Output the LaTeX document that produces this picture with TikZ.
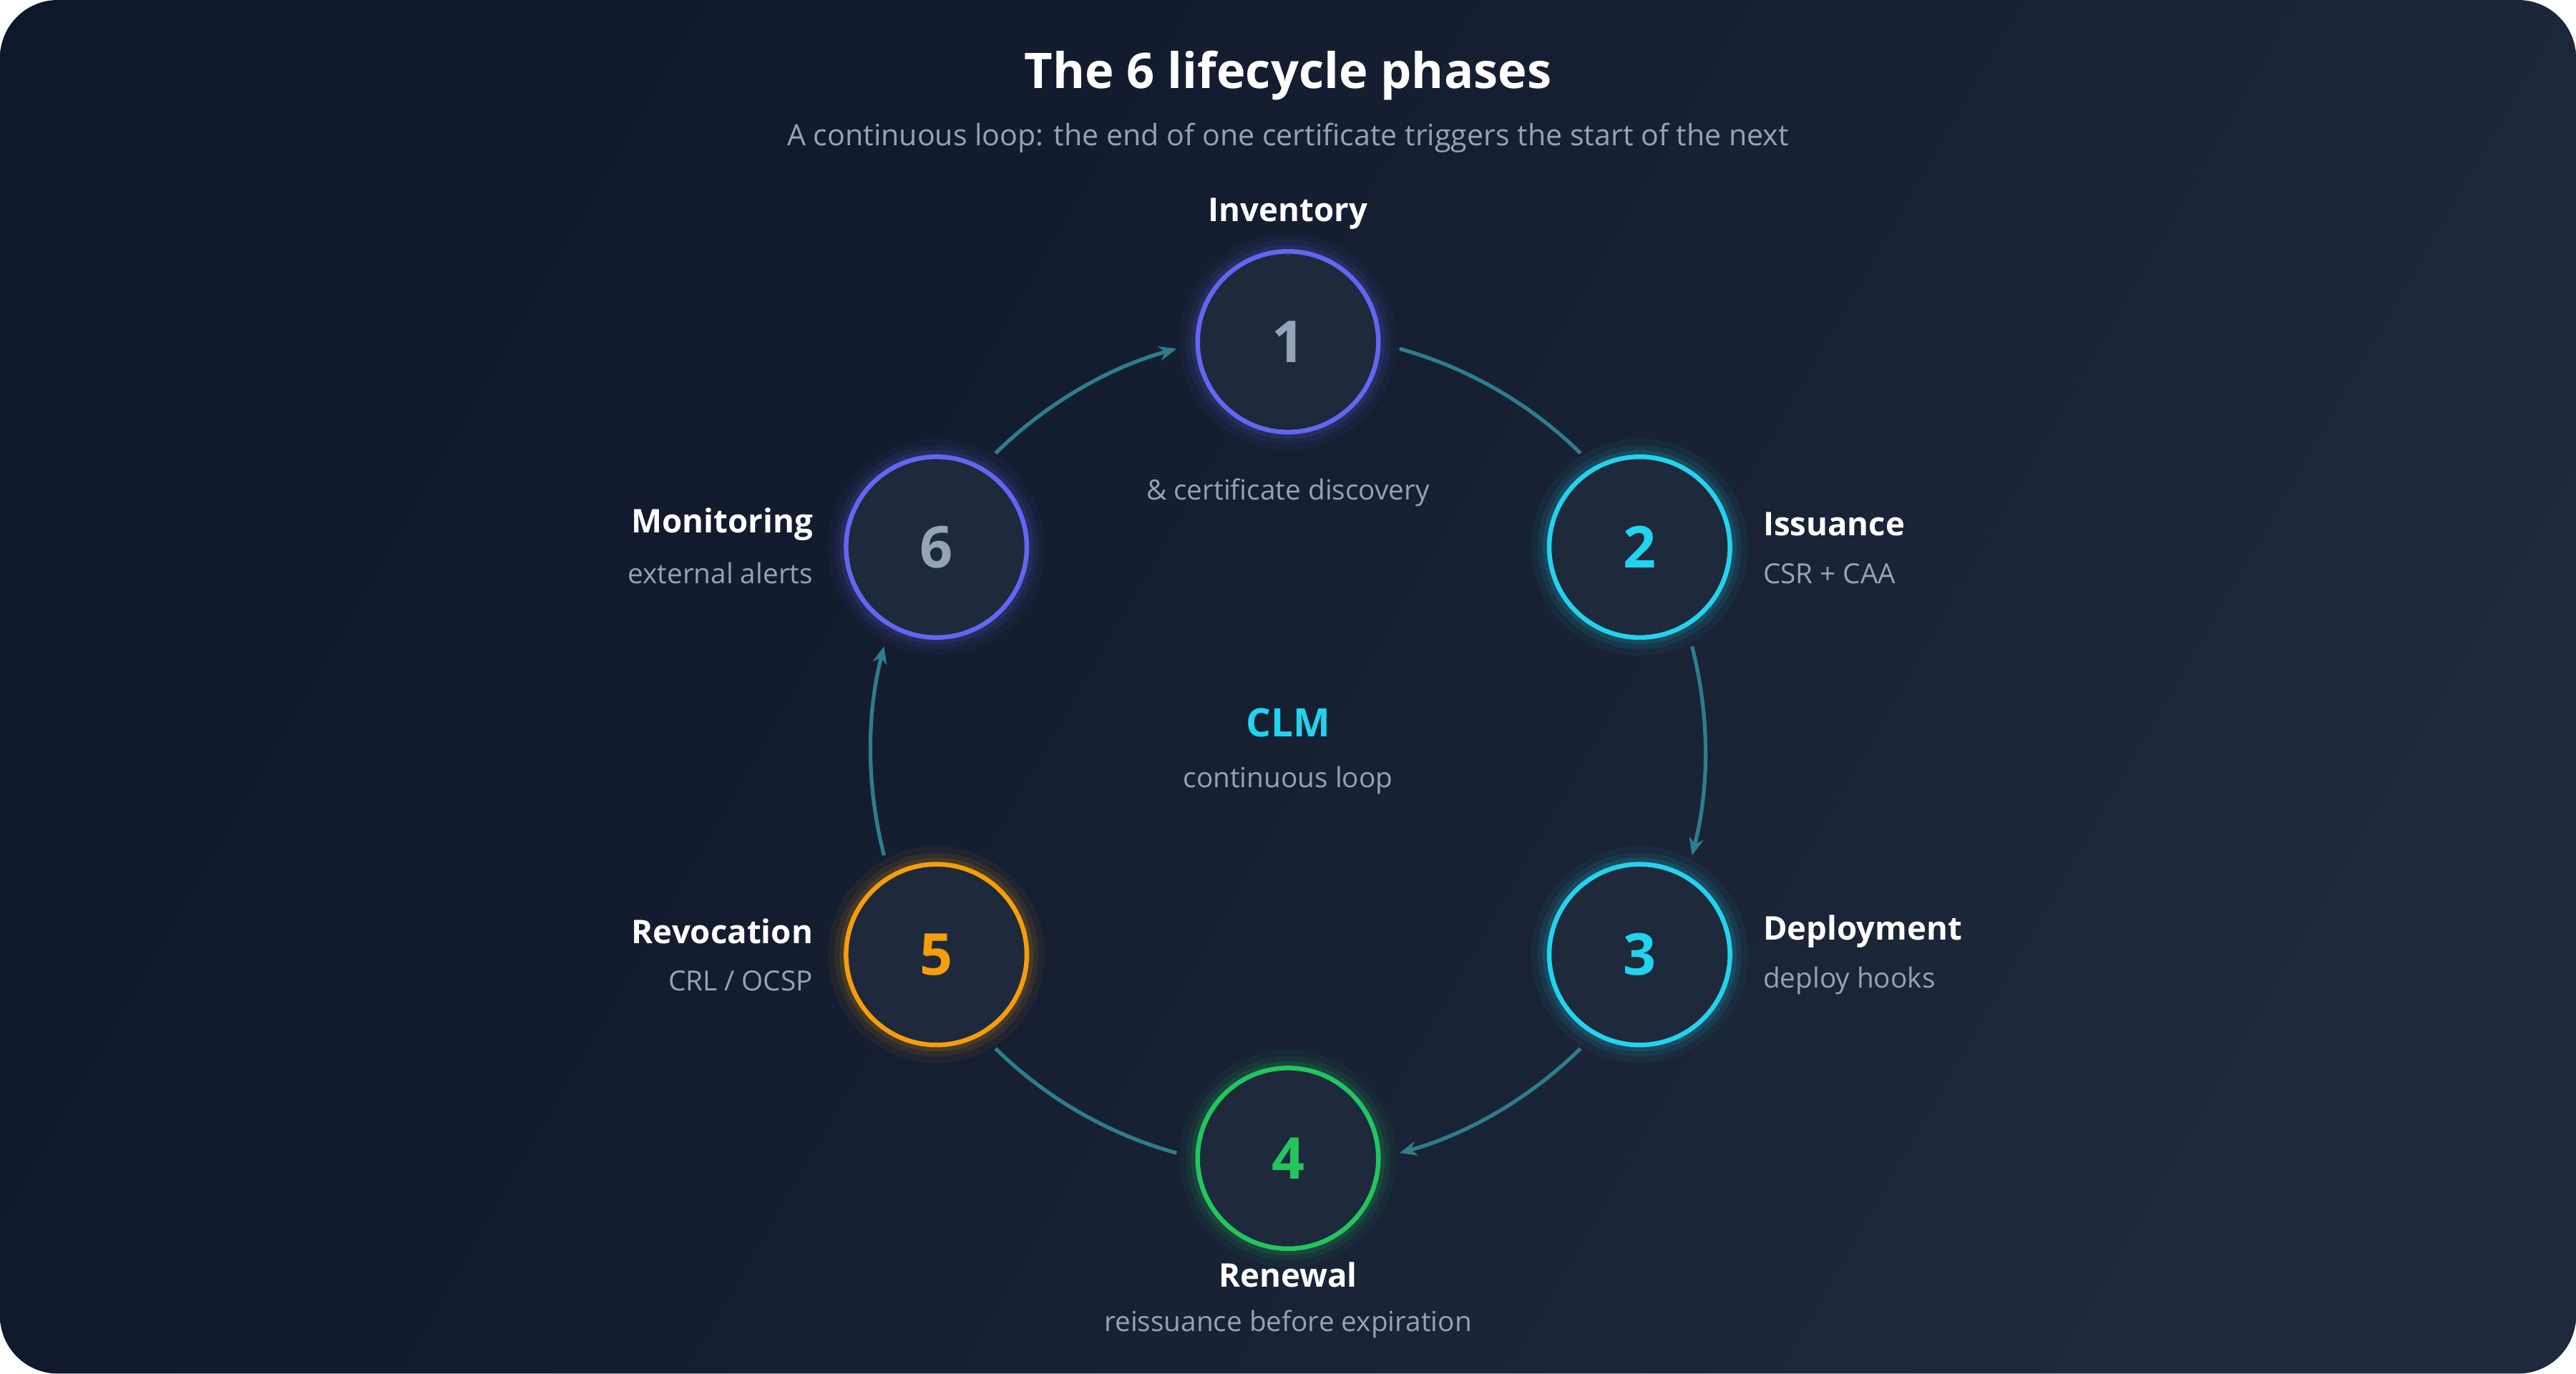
\documentclass[tikz,border=0pt]{standalone}
\usepackage{fontspec}
\setmainfont{Open Sans}
\usetikzlibrary{arrows.meta,calc}
\definecolor{bgA}{HTML}{0F172A}
\definecolor{bgB}{HTML}{1E293B}
\definecolor{cfill}{HTML}{1E293B}
\definecolor{indi}{HTML}{6366F1}
\definecolor{cyanc}{HTML}{22D3EE}
\definecolor{greenc}{HTML}{22C55E}
\definecolor{amber}{HTML}{F59E0B}
\definecolor{slate}{HTML}{94A3B8}
\definecolor{arcc}{HTML}{2E7D8C}
\begin{document}
\begin{tikzpicture}[x=0.02cm,y=-0.02cm,
  phase/.style={circle,minimum size=110*0.02cm,inner sep=0pt,line width=1.6pt,fill=cfill,font=\bfseries\fontsize{20}{24}\selectfont},
  lab/.style={text=white,font=\bfseries\fontsize{11.3}{13}\selectfont},
  sub/.style={text=slate,font=\fontsize{9.6}{12}\selectfont},
  loop/.style={draw=arcc,line width=1.3pt},
  tip/.style={-{Stealth[length=6pt,width=5pt]}}]
\useasboundingbox (0,0) rectangle (1568,836);
\fill[white] (0,0) rectangle (1568,836);
\shade[rounded corners=20pt,left color=bgA,right color=bgB,shading angle=60] (0,0) rectangle (1568,836);
\node[text=white,font=\bfseries\fontsize{17}{20}\selectfont] (title) at (784,46) {The 6 lifecycle phases};
\node[sub,font=\fontsize{10.2}{12}\selectfont] (subt) at (784,84) {A continuous loop: the end of one certificate triggers the start of the next};
\coordinate (c) at (784,457);
% arcs
\def\R{254}
\draw[loop] ($(c)+(-74.5:\R)$) arc[start angle=-74.5,end angle=-45.5,radius=\R];
\draw[loop,tip] ($(c)+(-14.5:\R)$) arc[start angle=-14.5,end angle=14.5,radius=\R];
\draw[loop,tip] ($(c)+(45.5:\R)$) arc[start angle=45.5,end angle=74.5,radius=\R];
\draw[loop] ($(c)+(105.5:\R)$) arc[start angle=105.5,end angle=134.5,radius=\R];
\draw[loop,tip] ($(c)+(165.5:\R)$) arc[start angle=165.5,end angle=194.5,radius=\R];
\draw[loop,tip] ($(c)+(225.5:\R)$) arc[start angle=225.5,end angle=254.5,radius=\R];
% glows + nodes
\foreach \p/\col/\num/\nc in {(784,208)/indi/1/slate,(998,333)/cyanc/2/cyanc,(998,581)/cyanc/3/cyanc,(784,705)/greenc/4/greenc,(570,581)/amber/5/amber,(570,333)/indi/6/slate}{
  \foreach \r/\o in {66/0.05,62/0.08,59/0.12}{\fill[\col,opacity=\o] \p circle (\r);}
  \node[phase,draw=\col,text=\nc] (n\num) at \p {\num};
}
\node[lab] (l1) at (784,130) {Inventory};
\node[sub] (s1) at (784,300) {\& certificate discovery};
\node[lab,anchor=west] (l2) at (1067,319) {Issuance};
\node[sub,anchor=west] (s2) at (1067,349) {CSR + CAA};
\node[lab,anchor=west] (l3) at (1067,567) {Deployment};
\node[sub,anchor=west] (s3) at (1067,597) {deploy hooks};
\node[lab] (l4) at (784,776) {Renewal};
\node[sub] (s4) at (784,806) {reissuance before expiration};
\node[lab,anchor=east] (l5) at (501,567) {Revocation};
\node[sub,anchor=east] (s5) at (501,597) {CRL / OCSP};
\node[lab,anchor=east] (l6) at (501,319) {Monitoring};
\node[sub,anchor=east] (s6) at (501,349) {external alerts};
\node[text=cyanc,font=\bfseries\fontsize{13.6}{16}\selectfont] (clm) at (784,440) {CLM};
\node[sub] (cl) at (784,475) {continuous loop};
\end{tikzpicture}
\end{document}
